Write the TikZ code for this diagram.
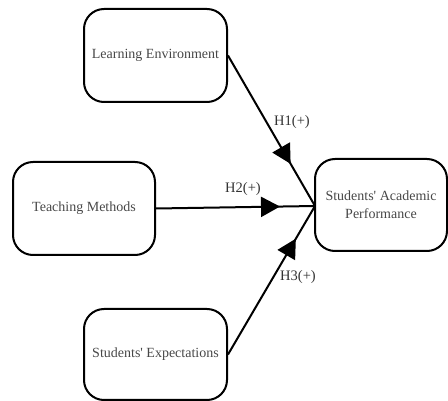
\documentclass[tikz,border=0pt]{standalone}
\usepackage{fontspec}
\setmainfont{Liberation Serif}
\usetikzlibrary{arrows.meta,decorations.markings,calc}
\begin{document}
\begin{tikzpicture}[x=1pt,y=-1pt,
  box/.style={draw=black,line width=2pt,rounded corners=20pt,inner sep=0pt,text=black!72,font=\fontsize{14}{18}\selectfont,align=center},
  link/.style={line width=2pt,postaction={decorate},decoration={markings,mark=at position #1 with {\arrow{Triangle[length=19pt,width=20pt]}}}},
  hyp/.style={font=\fontsize{14.5}{16}\selectfont,text=black!80,inner sep=0pt}]
\useasboundingbox (0,0) rectangle (448,401);
\node[box,minimum width=143pt,minimum height=93pt] (le) at (155.5,55.5) {Learning Environment};
\node[box,minimum width=142pt,minimum height=93pt] (tm) at (84,208.5) {Teaching Methods};
\node[box,minimum width=143pt,minimum height=91pt] (se) at (155.5,354.5) {Students\textquotesingle\ Expectations};
\node[box,minimum width=132pt,minimum height=92pt] (sap) at (381,205) {Students\textquotesingle\ Academic\\Performance};
\coordinate (p) at (315,206);
\draw[link=0.72] (le.east) -- (p);
\draw[link=0.78] (tm.east) -- (p);
\draw[link=0.78] (se.east) -- (p);
\node[hyp] (h1) at (292,122) {H1(+)};
\node[hyp] (h2) at (243,189) {H2(+)};
\node[hyp] (h3) at (298,277) {H3(+)};
\end{tikzpicture}
\end{document}
